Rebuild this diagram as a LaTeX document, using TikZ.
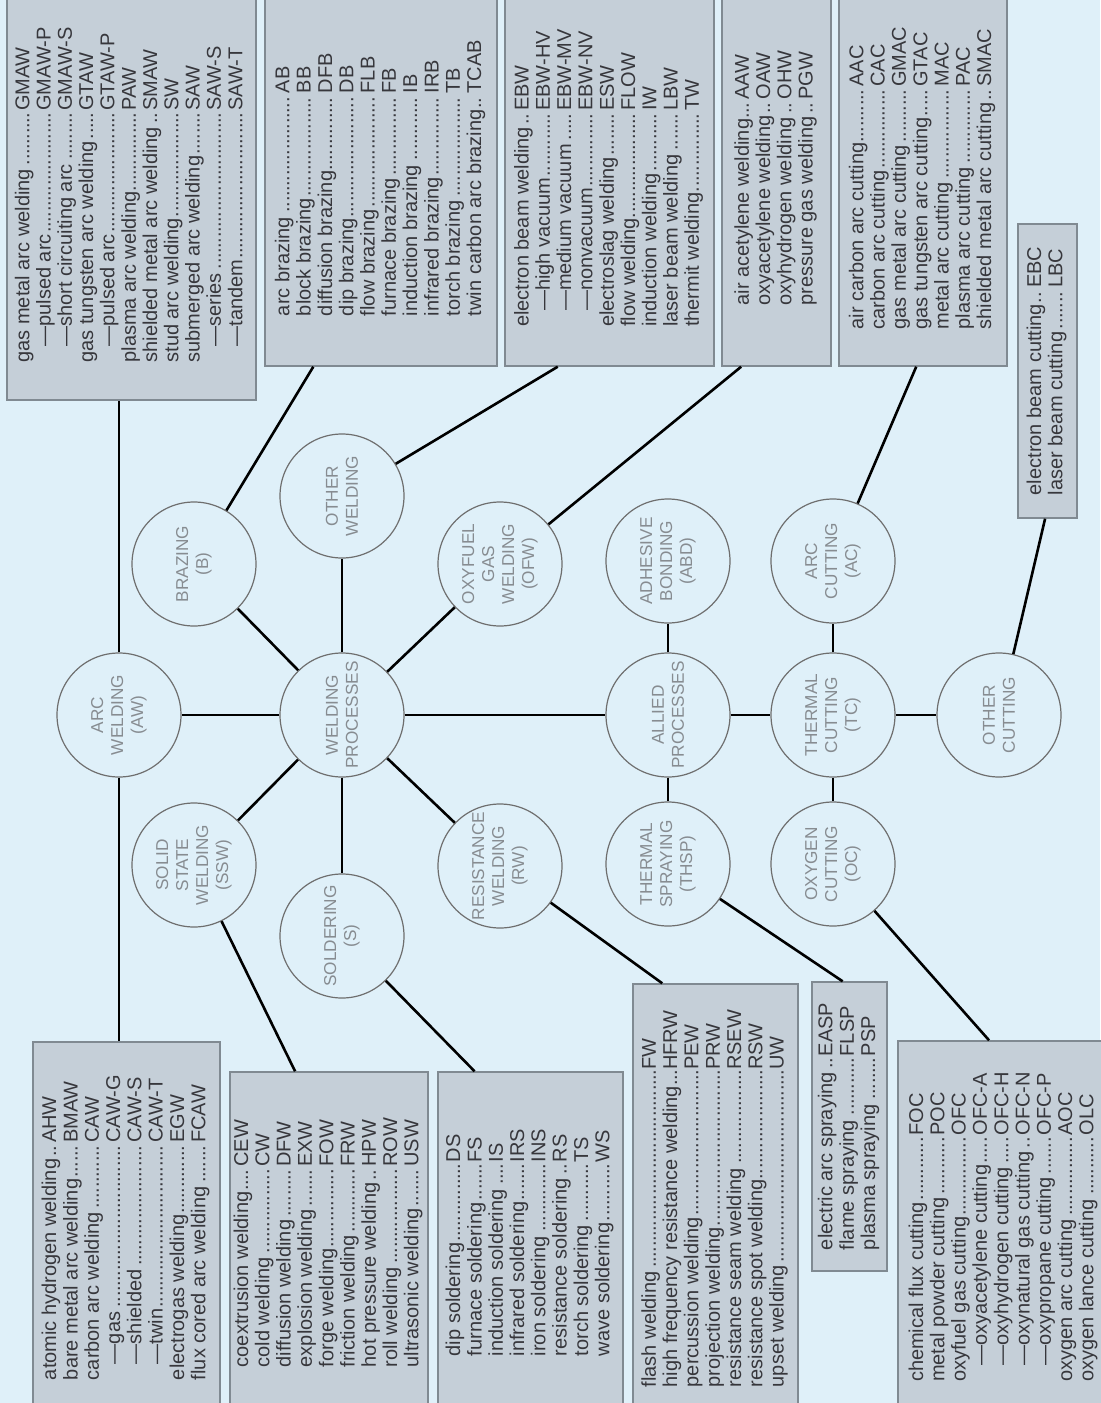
\documentclass[tikz,border=0pt]{standalone}
\usepackage{fontspec}
\setsansfont{Liberation Sans}
\usetikzlibrary{calc}
\definecolor{bgblue}{RGB}{223,240,249}
\definecolor{boxfill}{RGB}{197,207,216}
\definecolor{boxline}{RGB}{128,138,146}
\definecolor{boxtext}{RGB}{55,55,60}
\definecolor{circline}{RGB}{110,110,110}
\definecolor{circtext}{RGB}{135,140,145}
\newcommand\lfill{\leaders\hbox to .26em{\hss.\hss}\hskip .8em plus 1fill\kern0pt}
\newcommand\ab[2]{#1\lfill & #2\\}
\newcommand\subit{\hspace*{.8em}\textemdash}
\tikzset{
  proc/.style = {circle, draw=circline, line width=.6pt, text=circtext,
    minimum size=62pt, inner sep=0pt, align=center, rotate=90,
    font=\sffamily\fontsize{8.6}{10}\selectfont},% process circle
  lst/.style = {draw=boxline, fill=boxfill, line width=.7pt, text=boxtext,
    inner sep=0pt, rotate=90,
    font=\sffamily\fontsize{10}{10.65}\selectfont},% list of processes
  link/.style = {line width=1.3pt, black}
}

\begin{document}
\begin{tikzpicture}[x=0.5pt,y=-0.5pt]
\useasboundingbox (0,0) rectangle (1100,1403);
\fill[bgblue] (0,0) rectangle (1100,1403);

% process circles
\node [proc] (wp)   at (342,715) {WELDING\\PROCESSES};
\node [proc] (aw)   at (119,715) {ARC\\WELDING\\(AW)};
\node [proc] (brz)  at (194,564) {BRAZING\\(B)};
\node [proc] (owl)  at (342,496) {OTHER\\WELDING};
\node [proc] (ofw)  at (500,564) {OXYFUEL\\GAS\\WELDING\\(OFW)};
\node [proc] (ssw)  at (194,865) {SOLID\\STATE\\WELDING\\(SSW)};
\node [proc] (sld)  at (342,936) {SOLDERING\\(S)};
\node [proc] (rw)   at (500,866) {RESISTANCE\\WELDING\\(RW)};
\node [proc] (alp)  at (668,715) {ALLIED\\PROCESSES};
\node [proc] (abd)  at (668,561) {ADHESIVE\\BONDING\\(ABD)};
\node [proc] (thsp) at (668,864) {THERMAL\\SPRAYING\\(THSP)};
\node [proc] (tc)   at (833,715) {THERMAL\\CUTTING\\(TC)};
\node [proc] (ac)   at (833,561) {ARC\\CUTTING\\(AC)};
\node [proc] (oc)   at (833,864) {OXYGEN\\CUTTING\\(OC)};
\node [proc] (oct)  at (999,715) {OTHER\\CUTTING};

% lists along the top
\node [lst, minimum width=205pt, minimum height=124.5pt] (awT) at (131.5,195) {%
\begin{tabular}{@{}l@{}l@{}}
\ab{gas metal arc welding}{GMAW}
\ab{\subit pulsed arc}{GMAW-P}
\ab{\subit short circuiting arc}{GMAW-S}
\ab{gas tungsten arc welding}{GTAW}
\ab{\subit pulsed arc}{GTAW-P}
\ab{plasma arc welding}{PAW}
\ab{shielded metal arc welding}{SMAW}
\ab{stud arc welding}{SW}
\ab{submerged arc welding}{SAW}
\ab{\subit series}{SAW-S}
\ab{\subit tandem}{SAW-T}
\end{tabular}};
\node [lst, minimum width=188pt, minimum height=116pt] (brT) at (381,178) {%
\begin{tabular}{@{}l@{}l@{}}
\ab{arc brazing}{AB}
\ab{block brazing}{BB}
\ab{diffusion brazing}{DFB}
\ab{dip brazing}{DB}
\ab{flow brazing}{FLB}
\ab{furnace brazing}{FB}
\ab{induction brazing}{IB}
\ab{infrared brazing}{IRB}
\ab{torch brazing}{TB}
\ab{twin carbon arc brazing}{TCAB}
\end{tabular}};
\node [lst, minimum width=188pt, minimum height=104.5pt] (owT) at (609.5,178) {%
\begin{tabular}{@{}l@{}l@{}}
\ab{electron beam welding}{EBW}
\ab{\subit high vacuum}{EBW-HV}
\ab{\subit medium vacuum}{EBW-MV}
\ab{\subit nonvacuum}{EBW-NV}
\ab{electroslag welding}{ESW}
\ab{flow welding}{FLOW}
\ab{induction welding}{IW}
\ab{laser beam welding}{LBW}
\ab{thermit welding}{TW}
\end{tabular}};
\node [lst, minimum width=188pt, minimum height=54.5pt] (ofT) at (776.5,178) {%
\begin{tabular}{@{}l@{}l@{}}
\ab{air acetylene welding}{AAW}
\ab{oxyacetylene welding}{OAW}
\ab{oxyhydrogen welding}{OHW}
\ab{pressure gas welding}{PGW}
\end{tabular}};
\node [lst, minimum width=188pt, minimum height=84pt] (acT) at (923,178) {%
\begin{tabular}{@{}l@{}l@{}}
\ab{air carbon arc cutting}{AAC}
\ab{carbon arc cutting}{CAC}
\ab{gas metal arc cutting}{GMAC}
\ab{gas tungsten arc cutting}{GTAC}
\ab{metal arc cutting}{MAC}
\ab{plasma arc cutting}{PAC}
\ab{shielded metal arc cutting}{SMAC}
\end{tabular}};
\node [lst, minimum width=147pt, minimum height=29.5pt] (ebT) at (1047.5,371) {%
\begin{tabular}{@{}l@{}l@{}}
\ab{electron beam cutting}{EBC}
\ab{laser beam cutting}{LBC}
\end{tabular}};

% lists along the bottom
\node [lst, minimum width=185.5pt, minimum height=93.5pt] (awB) at (126.5,1227.5) {%
\begin{tabular}{@{}l@{}l@{}}
\ab{atomic hydrogen welding}{AHW}
\ab{bare metal arc welding}{BMAW}
\ab{carbon arc welding}{CAW}
\ab{\subit gas}{CAW-G}
\ab{\subit shielded}{CAW-S}
\ab{\subit twin}{CAW-T}
\ab{electrogas welding}{EGW}
\ab{flux cored arc welding}{FCAW}
\end{tabular}};
\node [lst, minimum width=170.5pt, minimum height=99pt] (sswB) at (329,1242.5) {%
\begin{tabular}{@{}l@{}l@{}}
\ab{coextrusion welding}{CEW}
\ab{cold welding}{CW}
\ab{diffusion welding}{DFW}
\ab{explosion welding}{EXW}
\ab{forge welding}{FOW}
\ab{friction welding}{FRW}
\ab{hot pressure welding}{HPW}
\ab{roll welding}{ROW}
\ab{ultrasonic welding}{USW}
\end{tabular}};
\node [lst, minimum width=170.5pt, minimum height=92.5pt] (sB) at (530.5,1242.5) {%
\begin{tabular}{@{}l@{}l@{}}
\ab{dip soldering}{DS}
\ab{furnace soldering}{FS}
\ab{induction soldering}{IS}
\ab{infrared soldering}{IRS}
\ab{iron soldering}{INS}
\ab{resistance soldering}{RS}
\ab{torch soldering}{TS}
\ab{wave soldering}{WS}
\end{tabular}};
\node [lst, minimum width=214.5pt, minimum height=82.5pt] (rwB) at (715.5,1198.5) {%
\begin{tabular}{@{}l@{}l@{}}
\ab{flash welding}{FW}
\ab{high frequency resistance welding}{HFRW}
\ab{percussion welding}{PEW}
\ab{projection welding}{PRW}
\ab{resistance seam welding}{RSEW}
\ab{resistance spot welding}{RSW}
\ab{upset welding}{UW}
\end{tabular}};
\node [lst, minimum width=144.5pt, minimum height=37.5pt] (thspB) at (849.5,1126.5) {%
\begin{tabular}{@{}l@{}l@{}}
\ab{electric arc spraying}{EASP}
\ab{flame spraying}{FLSP}
\ab{plasma spraying}{PSP}
\end{tabular}};
\node [lst, minimum width=186pt, minimum height=106pt] (ocB) at (1004,1227) {%
\begin{tabular}{@{}l@{}l@{}}
\ab{chemical flux cutting}{FOC}
\ab{metal powder cutting}{POC}
\ab{oxyfuel gas cutting}{OFC}
\ab{\subit oxyacetylene cutting}{OFC-A}
\ab{\subit oxyhydrogen cutting}{OFC-H}
\ab{\subit oxynatural gas cutting}{OFC-N}
\ab{\subit oxypropane cutting}{OFC-P}
\ab{oxygen arc cutting}{AOC}
\ab{oxygen lance cutting}{OLC}
\end{tabular}};

% links between processes
\foreach \n in {aw,brz,owl,ofw,ssw,sld,rw,alp}
  \draw[link] (wp) -- (\n);
\draw[link] (alp) -- (abd);
\draw[link] (alp) -- (thsp);
\draw[link] (alp) -- (tc);
\draw[link] (tc) -- (ac);
\draw[link] (tc) -- (oc);
\draw[link] (tc) -- (oct);

% links to the lists
\draw[link] (aw) -- (aw |- awT.west);
\draw[link] (aw) -- (aw |- awB.east);
\draw[link] (brz) -- ($(brT.north west)!.21!(brT.south west)$);
\draw[link] (owl) -- ($(owT.north west)!.254!(owT.south west)$);
\draw[link] (ofw) -- ($(ofT.north west)!.18!(ofT.south west)$);
\draw[link] (ac) -- ($(acT.north west)!.46!(acT.south west)$);
\draw[link] (oct) -- ($(ebT.north west)!.46!(ebT.south west)$);
\draw[link] (ssw) -- ($(sswB.north east)!.33!(sswB.south east)$);
\draw[link] (sld) -- ($(sB.north east)!.2!(sB.south east)$);
\draw[link] (rw) -- ($(rwB.north east)!.18!(rwB.south east)$);
\draw[link] (thsp) -- ($(thspB.north east)!.41!(thspB.south east)$);
\draw[link] (oc) -- ($(ocB.north east)!.43!(ocB.south east)$);
\end{tikzpicture}
\end{document}
